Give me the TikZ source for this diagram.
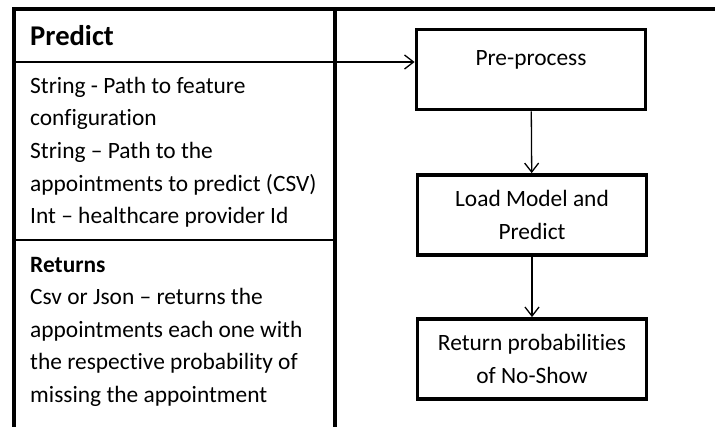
\documentclass[tikz,border=0pt]{standalone}
\usepackage{fontspec}
\setmainfont[Ligatures=NoCommon]{Carlito}
\usetikzlibrary{arrows.meta}
\begin{document}
\begin{tikzpicture}[x=1pt,y=-1pt,
  frame/.style={line width=3.8pt},
  txt/.style={anchor=base west,inner sep=0pt,font=\fontsize{23.4}{32.6}\selectfont},
  hdr/.style={anchor=base west,inner sep=0pt,font=\fontsize{28.6}{34}\selectfont\bfseries},
  stepbox/.style={draw,line width=3.8pt,minimum width=229pt,minimum height=80pt,
    align=center,inner sep=2pt,font=\fontsize{23.4}{32.6}\selectfont},
  boxtxt/.style={anchor=base,inner sep=0pt,font=\fontsize{23.4}{32.6}\selectfont},
  flow/.style={line width=1.3pt,-{Straight Barb[length=9pt,width=14pt,line width=1.3pt]}}]
\useasboundingbox[fill=white] (0,0) rectangle (715,426);
% frame
\coordinate (ftl) at (14,9);
\coordinate (ftr) at (715,9);
\coordinate (fmt) at (335,9);
\coordinate (fbl) at (14,428);
\coordinate (fmb) at (335,428);
\coordinate (d1l) at (14,62);
\coordinate (d2l) at (14,240);
\coordinate (d2r) at (335,240);
\draw[frame] ([xshift=-1.9pt]ftl) -- (ftr);
\draw[frame] (ftl) -- (fbl);
\draw[frame] (fmt) -- (fmb);
\draw[line width=2.6pt] (d2l) -- (d2r);
% boxes
\node[stepbox] (pre) at (531,69.5) {};
\node[boxtxt] (pretxt) at (531,65) {Pre-process};
\node[stepbox] (load) at (532,215) {Load Model and\\Predict};
\node[stepbox] (ret) at (532,359) {Return probabilities\\of No-Show};
% arrows
\draw[flow] (d1l) -- (pre.west |- d1l);
\draw[flow] (pre) -- (load);
\draw[flow] (load) -- (ret);
% left texts
\node[hdr] (title) at (30,45) {Predict};
\node[txt] (p1) at (30,93) {String - Path to feature};
\node[txt] (p2) at (30,125.5) {configuration};
\node[txt] (p3) at (30,158) {String – Path to the};
\node[txt] (p4) at (30,191) {appointments to predict (CSV)};
\node[txt] (p5) at (30,223) {Int – healthcare provider Id};
\node[txt,font=\fontsize{23.4}{32.6}\selectfont\bfseries] (r0) at (30,272) {Returns};
\node[txt] (r1) at (30,304.5) {Csv or Json – returns the};
\node[txt] (r2) at (30,337) {appointments each one with};
\node[txt] (r3) at (30,369.5) {the respective probability of};
\node[txt] (r4) at (30,402) {missing the appointment};
\end{tikzpicture}
\end{document}
